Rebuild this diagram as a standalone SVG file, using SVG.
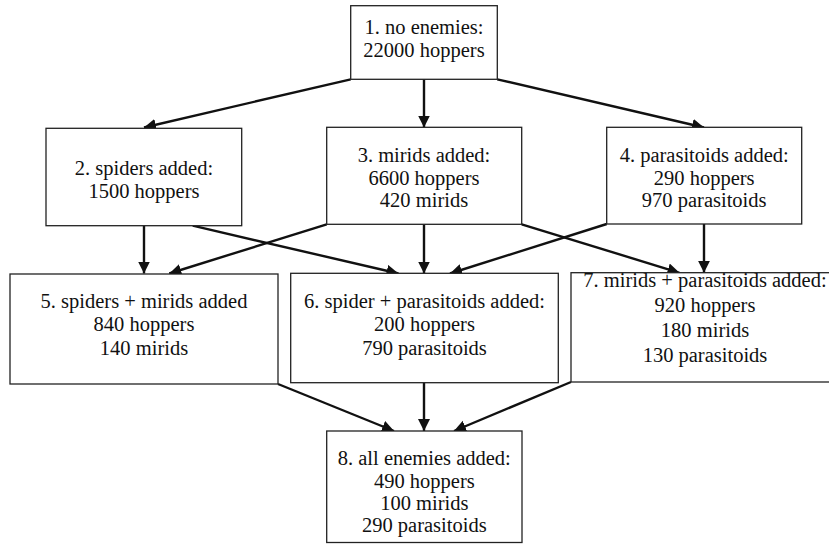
<svg xmlns="http://www.w3.org/2000/svg" width="829" height="552" viewBox="0 0 829 552">
  <style>
    .box { fill: #ffffff; stroke: #222222; stroke-width: 1.3; }
    .lbl { font-family: 'Liberation Serif', 'DejaVu Serif', serif; font-size: 20.5px; fill: #111111; text-anchor: middle; }
    .edge { stroke: #111111; stroke-width: 2.4; fill: none; marker-end: url(#arrow); }
  </style>
  <defs>
    <marker id="arrow" markerUnits="userSpaceOnUse" markerWidth="13" markerHeight="13" refX="12" refY="6" orient="auto">
      <path d="M0,0 L12,6 L0,12 Z" fill="#111111"/>
    </marker>
  </defs>
  <rect width="829" height="552" fill="#ffffff"/>

  <g id="connectors">
    <line class="edge" x1="350.7" y1="79.3" x2="144" y2="127.5"/>
    <line class="edge" x1="424" y1="79.3" x2="424" y2="127.5"/>
    <line class="edge" x1="497.3" y1="79.3" x2="704" y2="127.5"/>

    <line class="edge" x1="144" y1="225.7" x2="144" y2="273.5"/>
    <line class="edge" x1="192.7" y1="225.7" x2="398.5" y2="273.5"/>
    <line class="edge" x1="326.7" y1="224.3" x2="169.3" y2="273.5"/>
    <line class="edge" x1="424" y1="224.3" x2="424" y2="273.5"/>
    <line class="edge" x1="521.7" y1="224.3" x2="679.5" y2="272.8"/>
    <line class="edge" x1="606.7" y1="224" x2="450" y2="273.5"/>
    <line class="edge" x1="704" y1="224" x2="704" y2="272.8"/>

    <line class="edge" x1="278" y1="384" x2="394" y2="431"/>
    <line class="edge" x1="424" y1="382.7" x2="424" y2="431"/>
    <line class="edge" x1="571" y1="382" x2="454" y2="431"/>
  </g>

  <g id="node1">
    <rect class="box" x="350.7" y="5.7" width="146.6" height="73.6"/>
    <text class="lbl" x="424" y="34">1. no enemies:</text>
    <text class="lbl" x="424" y="57">22000 hoppers</text>
  </g>

  <g id="node2">
    <rect class="box" x="46" y="128.3" width="195.7" height="97.4"/>
    <text class="lbl" x="144" y="175">2. spiders added:</text>
    <text class="lbl" x="144" y="198">1500 hoppers</text>
  </g>

  <g id="node3">
    <rect class="box" x="326.7" y="127.3" width="195" height="97"/>
    <text class="lbl" x="424" y="161.5">3. mirids added:</text>
    <text class="lbl" x="424" y="184.5">6600 hoppers</text>
    <text class="lbl" x="424" y="207">420 mirids</text>
  </g>

  <g id="node4">
    <rect class="box" x="606.7" y="127.3" width="195" height="96.7"/>
    <text class="lbl" x="704.2" y="161.5">4. parasitoids added:</text>
    <text class="lbl" x="704.2" y="184.5">290 hoppers</text>
    <text class="lbl" x="704.2" y="207">970 parasitoids</text>
  </g>

  <g id="node5">
    <rect class="box" x="10" y="274" width="268" height="110"/>
    <text class="lbl" x="144" y="307.5">5. spiders + mirids added</text>
    <text class="lbl" x="144" y="331">840 hoppers</text>
    <text class="lbl" x="144" y="354.5">140 mirids</text>
  </g>

  <g id="node6">
    <rect class="box" x="290.7" y="273.3" width="267.6" height="109.4"/>
    <text class="lbl" x="424.5" y="307.5">6. spider + parasitoids added:</text>
    <text class="lbl" x="424.5" y="331">200 hoppers</text>
    <text class="lbl" x="424.5" y="354.5">790 parasitoids</text>
  </g>

  <g id="node7">
    <rect class="box" x="571" y="272.7" width="268" height="109.3"/>
    <text class="lbl" x="705" y="287">7. mirids + parasitoids added:</text>
    <text class="lbl" x="705" y="312">920 hoppers</text>
    <text class="lbl" x="705" y="337">180 mirids</text>
    <text class="lbl" x="705" y="362">130 parasitoids</text>
  </g>

  <g id="node8">
    <rect class="box" x="326.7" y="431" width="195.3" height="111.5"/>
    <text class="lbl" x="424.3" y="465">8. all enemies added:</text>
    <text class="lbl" x="424.3" y="487.5">490 hoppers</text>
    <text class="lbl" x="424.3" y="510">100 mirids</text>
    <text class="lbl" x="424.3" y="531.5">290 parasitoids</text>
  </g>
</svg>
